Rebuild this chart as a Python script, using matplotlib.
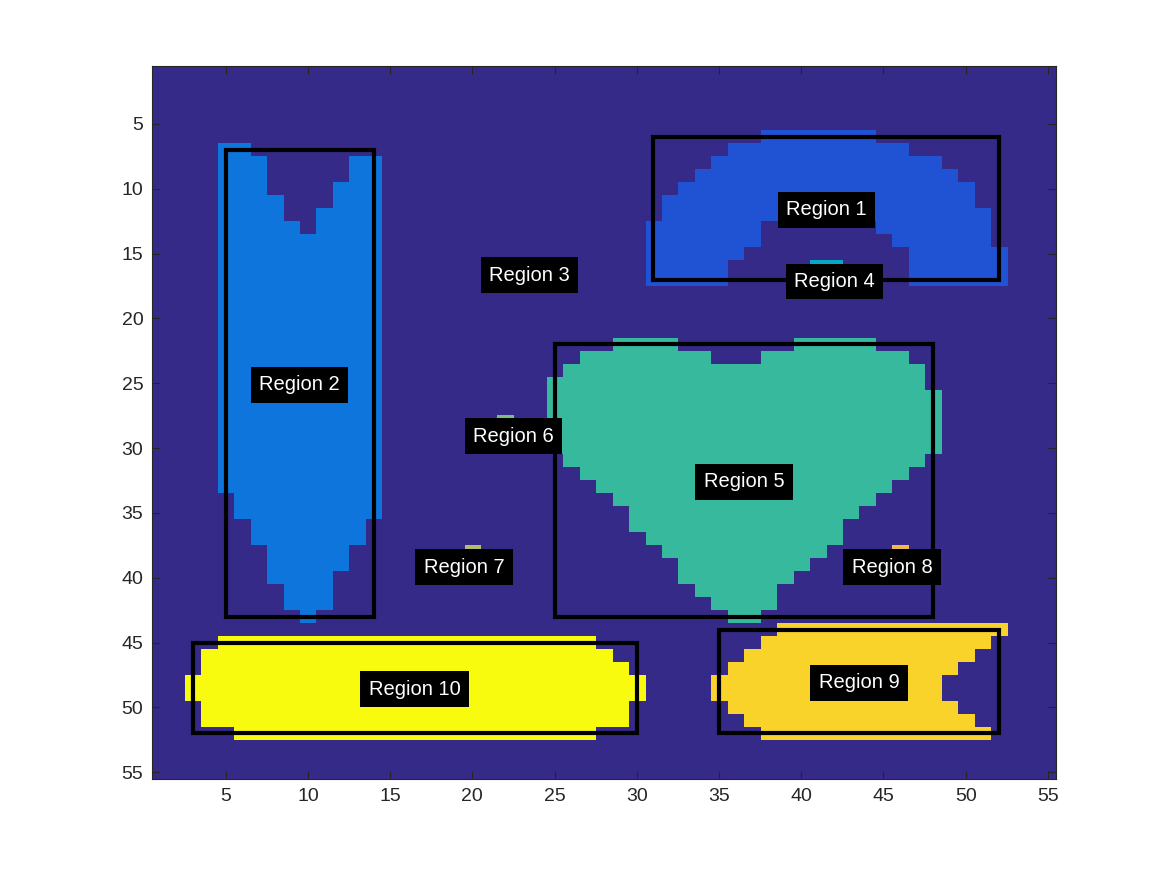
import numpy as np
import matplotlib
matplotlib.use("Agg")
import matplotlib.pyplot as plt
from matplotlib.colors import ListedColormap
from matplotlib.patches import Rectangle

# label image is 55 x 55, each region stored as (row, first col, last col) runs, 1-based
n_rows, n_cols = 55, 55

region1 = [(6, 38, 44), (7, 36, 46), (8, 35, 48), (9, 34, 49), (10, 33, 50),
           (11, 32, 50), (12, 32, 51), (13, 31, 37), (13, 45, 51),
           (14, 31, 37), (14, 46, 51), (15, 31, 36), (15, 47, 52),
           (16, 31, 35), (16, 47, 52), (17, 31, 35), (17, 47, 52)]
region2 = [(7, 5, 6), (8, 5, 7), (8, 13, 14), (9, 5, 7), (9, 13, 14),
           (10, 5, 7), (10, 12, 14), (11, 5, 8), (11, 12, 14),
           (12, 5, 8), (12, 11, 14), (13, 5, 9), (13, 11, 14)] + \
          [(r, 5, 14) for r in range(14, 34)] + \
          [(34, 6, 14), (35, 6, 14), (36, 7, 13), (37, 7, 13), (38, 8, 12),
           (39, 8, 12), (40, 8, 11), (41, 9, 11), (42, 9, 11), (43, 10, 10)]
region3 = [(16, 23, 24), (17, 23, 24)]
region4 = [(16, 41, 42), (17, 41, 42), (18, 42, 42)]
region5 = [(22, 29, 32), (22, 40, 44), (23, 27, 34), (23, 38, 46),
           (24, 26, 47), (25, 25, 47)] + \
          [(r, 25, 48) for r in range(26, 31)] + \
          [(31, 26, 47), (32, 27, 46), (33, 28, 45), (34, 29, 44), (35, 30, 43),
           (36, 30, 42), (37, 31, 42), (38, 32, 41), (39, 33, 40), (40, 33, 39),
           (41, 34, 38), (42, 35, 38), (43, 36, 37)]
region6 = [(28, 22, 22), (29, 22, 23), (30, 22, 23)]
region7 = [(38, 20, 20), (39, 19, 20), (40, 19, 20)]
region8 = [(38, 46, 46), (39, 45, 46), (40, 45, 46)]
region9 = [(44, 39, 52), (45, 38, 51), (46, 37, 50), (47, 36, 49), (48, 35, 48),
           (49, 35, 48), (50, 36, 49), (51, 37, 50), (52, 38, 51)]
region10 = [(45, 5, 27), (46, 4, 28), (47, 4, 29), (48, 3, 30), (49, 3, 30),
            (50, 4, 29), (51, 4, 29), (52, 6, 27)]

regions = [region1, region2, region3, region4, region5,
           region6, region7, region8, region9, region10]
boxed = [1, 2, 5, 9, 10]

# where the "Region k" labels sit (data units)
label_x = [41.53, 9.49, 23.48, 42.03, 36.53, 22.51, 19.5, 45.52, 43.53, 16.50]
label_y = [11.6, 25.1, 16.65, 17.15, 32.6, 29.1, 39.2, 39.2, 48.1, 48.6]

# parula colours for label values 0..10
label_colors = ["#352a87", "#2053d4", "#0d75dc", "#0c93d2", "#07a9c2", "#37b99e",
                "#7cbf7b", "#b7bd64", "#f1b949", "#f9d32a", "#f9fb0e"]

labels = np.zeros((n_rows, n_cols), dtype=int)
for k, runs in enumerate(regions, start=1):
    for r, c0, c1 in runs:
        labels[r - 1, c0 - 1:c1] = k

fig = plt.figure(figsize=(11.67, 8.75), dpi=100)
ax = fig.add_axes([0.13, 0.11, 0.775, 0.815])
ax.imshow(labels, cmap=ListedColormap(label_colors), vmin=-0.5, vmax=10.5,
          extent=(0.5, n_cols + 0.5, n_rows + 0.5, 0.5), aspect="auto",
          interpolation="nearest")

rows_idx, cols_idx = np.indices(labels.shape)
for k in range(1, len(regions) + 1):
    if k in boxed:
        m = labels == k
        ys = rows_idx[m] + 1
        xs = cols_idx[m] + 1
        ax.add_patch(Rectangle((xs.min(), ys.min()), xs.max() - xs.min(),
                               ys.max() - ys.min(), fill=False,
                               edgecolor="black", linewidth=3))
    ax.text(label_x[k - 1], label_y[k - 1], "Region %d" % k, color="white",
            ha="center", va="center", fontsize=14.5, family="Liberation Sans",
            bbox=dict(facecolor="black", edgecolor="none",
                      boxstyle="square,pad=0.42"))

ax.set_xlim(0.5, n_cols + 0.5)
ax.set_ylim(n_rows + 0.5, 0.5)
ax.set_xticks(np.arange(5, 56, 5))
ax.set_yticks(np.arange(5, 56, 5))
ax.tick_params(direction="in", top=True, right=True, length=6, width=0.8,
               color="#262626", labelcolor="#262626", labelsize=14)
ax.tick_params(axis="x", pad=7)
ax.tick_params(axis="y", pad=6)
for lab in ax.get_xticklabels() + ax.get_yticklabels():
    lab.set_family("Liberation Sans")
for s in ax.spines.values():
    s.set_color("#262626")
    s.set_linewidth(0.8)

fig.savefig("out.png", dpi=100)
